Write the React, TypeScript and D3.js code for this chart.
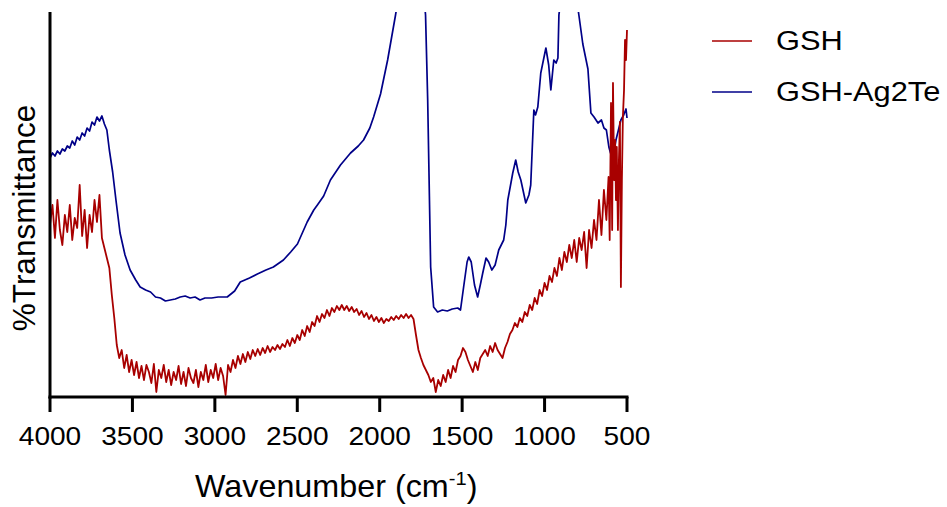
import React from "react";
import * as d3 from "d3";

// Wavenumber (cm-1), %T (arbitrary units)
const gshWn = [4000,3985,3970,3955,3940,3925,3910,3895,3880,3865,3850,3835,3820,3805,3790,3775,3760,3745,3730,3715,3700,3685,3670,3655,3640,3625,3610,3595,3580,3565,3550,3535,3520,3505,3490,3475,3460,3445,3430,3415,3400,3385,3370,3355,3340,3325,3310,3295,3280,3265,3250,3235,3220,3205,3190,3175,3160,3145,3130,3115,3100,3085,3070,3055,3040,3025,3010,2995,2980,2965,2950,2935,2920,2905,2890,2875,2860,2845,2830,2815,2800,2785,2770,2755,2740,2725,2710,2695,2680,2665,2650,2635,2620,2605,2590,2575,2560,2545,2530,2515,2500,2485,2470,2455,2440,2425,2410,2395,2380,2365,2350,2335,2320,2305,2290,2275,2260,2245,2230,2215,2200,2185,2170,2155,2140,2125,2110,2095,2080,2065,2050,2035,2020,2005,1990,1975,1960,1945,1930,1915,1900,1885,1870,1855,1840,1825,1810,1795,1780,1765,1750,1735,1720,1705,1690,1675,1660,1645,1630,1615,1600,1585,1570,1555,1540,1525,1510,1495,1480,1465,1450,1435,1420,1405,1390,1375,1360,1345,1330,1315,1300,1285,1270,1255,1240,1225,1210,1195,1180,1165,1150,1135,1120,1105,1090,1075,1060,1045,1030,1015,1000,985,970,955,940,925,910,895,880,865,850,835,820,805,790,775,760,745,730,715,700,685,670,655,640,625,612,605,597,590,585,578,572,567,562,555,549,543,537,531,525,518,512,506,500];
const gshT = [34.4,38.4,31.8,39.4,33.4,30.4,36.4,33.0,38.4,31.4,35.8,33.8,42.4,32.2,37.4,29.8,36.4,33.0,39.4,35.0,40.4,31.8,29.8,27.8,25.8,20.4,15.8,10.4,7.8,9.4,5.8,8.4,5.0,7.4,4.4,7.0,3.8,6.2,3.4,6.4,5.0,2.8,6.6,1.0,5.4,3.8,6.4,3.0,5.4,2.4,5.0,3.4,6.2,2.6,5.0,2.2,5.8,3.8,2.8,5.4,2.0,5.0,3.4,6.4,3.0,5.4,3.8,6.6,3.4,5.8,4.2,0.4,6.4,5.0,7.4,5.8,8.2,6.6,8.6,7.0,9.0,7.6,9.4,8.2,9.6,8.4,9.8,8.8,10.2,9.0,10.0,9.4,10.4,9.6,10.6,10.0,11.4,10.2,11.8,10.8,12.4,11.4,13.4,12.2,14.2,13.0,15.0,14.2,16.2,15.0,16.6,15.8,17.4,16.2,17.8,17.0,18.2,17.4,18.4,17.4,18.2,17.2,18.0,17.0,17.6,16.4,17.2,16.0,16.8,15.6,16.4,15.2,16.0,15.0,15.8,14.8,15.6,15.2,16.0,15.4,16.2,15.6,16.4,15.8,16.6,15.8,16.4,15.6,12.4,9.4,7.8,6.4,5.4,4.4,3.0,3.8,1.0,3.4,2.2,4.4,3.0,5.4,3.8,6.2,5.0,7.4,8.2,9.8,9.0,7.4,6.2,5.0,7.0,5.4,7.8,8.6,9.4,8.2,10.2,9.0,10.8,9.4,8.6,7.8,9.8,11.0,12.6,13.4,14.8,14.0,15.8,15.0,17.0,16.2,18.4,17.4,19.8,18.6,21.4,20.2,22.8,21.4,24.2,23.0,25.8,24.2,27.8,25.4,29.0,27.0,30.4,27.8,31.4,27.0,31.8,29.4,33.0,25.8,33.4,29.8,35.4,31.4,39.4,32.4,41.4,35.4,44.0,31.4,58.8,33.4,62.8,43.4,51.4,39.4,50.0,33.4,47.4,55.0,22.0,43.4,56.0,61.4,71.4,67.4,73.4];

const agWn = [4000,3985,3970,3955,3940,3925,3910,3895,3880,3865,3850,3835,3820,3805,3790,3775,3760,3745,3730,3715,3700,3685,3670,3655,3640,3620,3600,3575,3545,3514,3480,3453,3420,3390,3360,3330,3300,3270,3240,3210,3180,3150,3120,3090,3060,3020,2980,2925,2880,2846,2790,2742,2690,2645,2584,2540,2499,2440,2400,2378,2340,2299,2238,2177,2130,2098,2060,2037,1995,1952,1904,1870,1800,1740,1722,1709,1691,1673,1649,1620,1590,1560,1527,1510,1491,1470,1460,1445,1425,1406,1390,1375,1355,1339,1320,1300,1278,1248,1235,1223,1193,1175,1160,1144,1114,1095,1084,1065,1055,1041,1023,992,975,962,944,930,919,913,880,830,792,768,737,719,700,676,655,640,625,610,600,585,567,537,520,506,500];
const agT = [47.8,48.8,48.2,49.2,48.6,49.6,49.2,50.2,49.8,51.2,50.4,52.0,51.4,52.8,52.2,53.8,53.2,55.0,54.4,56.0,55.2,56.2,54.6,53.4,49.4,45.0,39.4,32.8,28.4,25.4,23.4,22.0,21.4,21.0,20.0,19.8,19.2,19.4,19.6,20.0,20.2,19.8,20.0,19.4,19.8,19.8,20.0,20.0,21.2,23.0,23.8,24.6,25.4,26.0,27.4,29.0,30.6,35.0,37.4,38.4,40.2,43.4,46.4,48.8,50.2,51.4,53.8,56.0,60.6,67.4,76.4,83.4,87.4,83.4,76.4,59.4,26.0,18.0,17.0,17.4,17.2,17.6,17.8,17.4,22.0,27.0,28.0,27.0,22.4,20.0,22.4,24.8,27.8,27.0,25.4,26.4,29.4,31.4,34.4,39.4,44.8,47.4,45.0,43.4,38.8,40.4,42.4,57.4,56.4,58.0,64.8,69.8,66.4,61.4,67.4,66.8,67.8,76.4,85.4,85.4,76.4,70.6,65.6,56.8,56.0,54.8,55.4,53.8,53.4,50.0,48.8,48.0,51.4,55.4,56.4,57.6,55.8];

const xTicks = [4000, 3500, 3000, 2500, 2000, 1500, 1000, 500];
const seriesNames = ["GSH", "GSH-Ag2Te"];
const seriesColors = ["#a80000", "#000088"];

export default function App() {
  const W = 947, H = 507;
  const left = 50, right = 627, top = 12, bottom = 397;
  const x = d3.scaleLinear().domain([4000, 500]).range([left, right]);
  const y = d3.scaleLinear().domain([0, 77]).range([bottom, top]);
  const line = d3.line<[number, number]>().x(d => x(d[0])).y(d => y(d[1]));
  const gsh = gshWn.map((w, i) => [w, gshT[i]] as [number, number]);
  const ag = agWn.map((w, i) => [w, agT[i]] as [number, number]);
  const font = "'Liberation Sans', Arial, sans-serif";
  return (
    <svg width={W} height={H} style={{ position: "absolute", left: 0, top: 0 }}>
      <defs>
        <clipPath id="plot">
          <rect x={left} y={top} width={right - left + 2} height={bottom - top} />
        </clipPath>
      </defs>
      <g clipPath="url(#plot)" fill="none" strokeLinejoin="round">
        <path d={line(ag) || ""} stroke={seriesColors[1]} strokeWidth={1.7} />
        <path d={line(gsh) || ""} stroke={seriesColors[0]} strokeWidth={1.8} />
      </g>
      <line x1={left} x2={left} y1={top} y2={bottom + 1.5} stroke="#000" strokeWidth={3} />
      <line x1={left - 1.5} x2={right + 1.5} y1={bottom} y2={bottom} stroke="#000" strokeWidth={3} />
      {xTicks.map(t => (
        <g key={t}>
          <line x1={x(t)} x2={x(t)} y1={bottom} y2={bottom + 15} stroke="#000" strokeWidth={3} />
          <text transform={`translate(${x(t)},445) scale(1.08,1)`} textAnchor="middle" fontFamily={font} fontSize={26} fill="#000">{t}</text>
        </g>
      ))}
      <text transform="translate(195,497) scale(1.06,1)" fontFamily={font} fontSize={30.5} fill="#000">
        Wavenumber (cm<tspan dy={-12} fontSize={19}>-1</tspan><tspan dy={12}>)</tspan>
      </text>
      <text transform={`translate(35, 218) rotate(-90)`} textAnchor="middle" fontFamily={font} fontSize={31.5} fill="#000">%Transmittance</text>
      {seriesNames.map((n, i) => (
        <g key={n}>
          <line x1={712} x2={752} y1={41 + i * 51} y2={41 + i * 51} stroke={seriesColors[i]} strokeWidth={1.6} />
          <text transform={`translate(776,${50 + i * 51}) scale(1.1,1)`} fontFamily={font} fontSize={28} fill="#000">{n}</text>
        </g>
      ))}
    </svg>
  );
}
